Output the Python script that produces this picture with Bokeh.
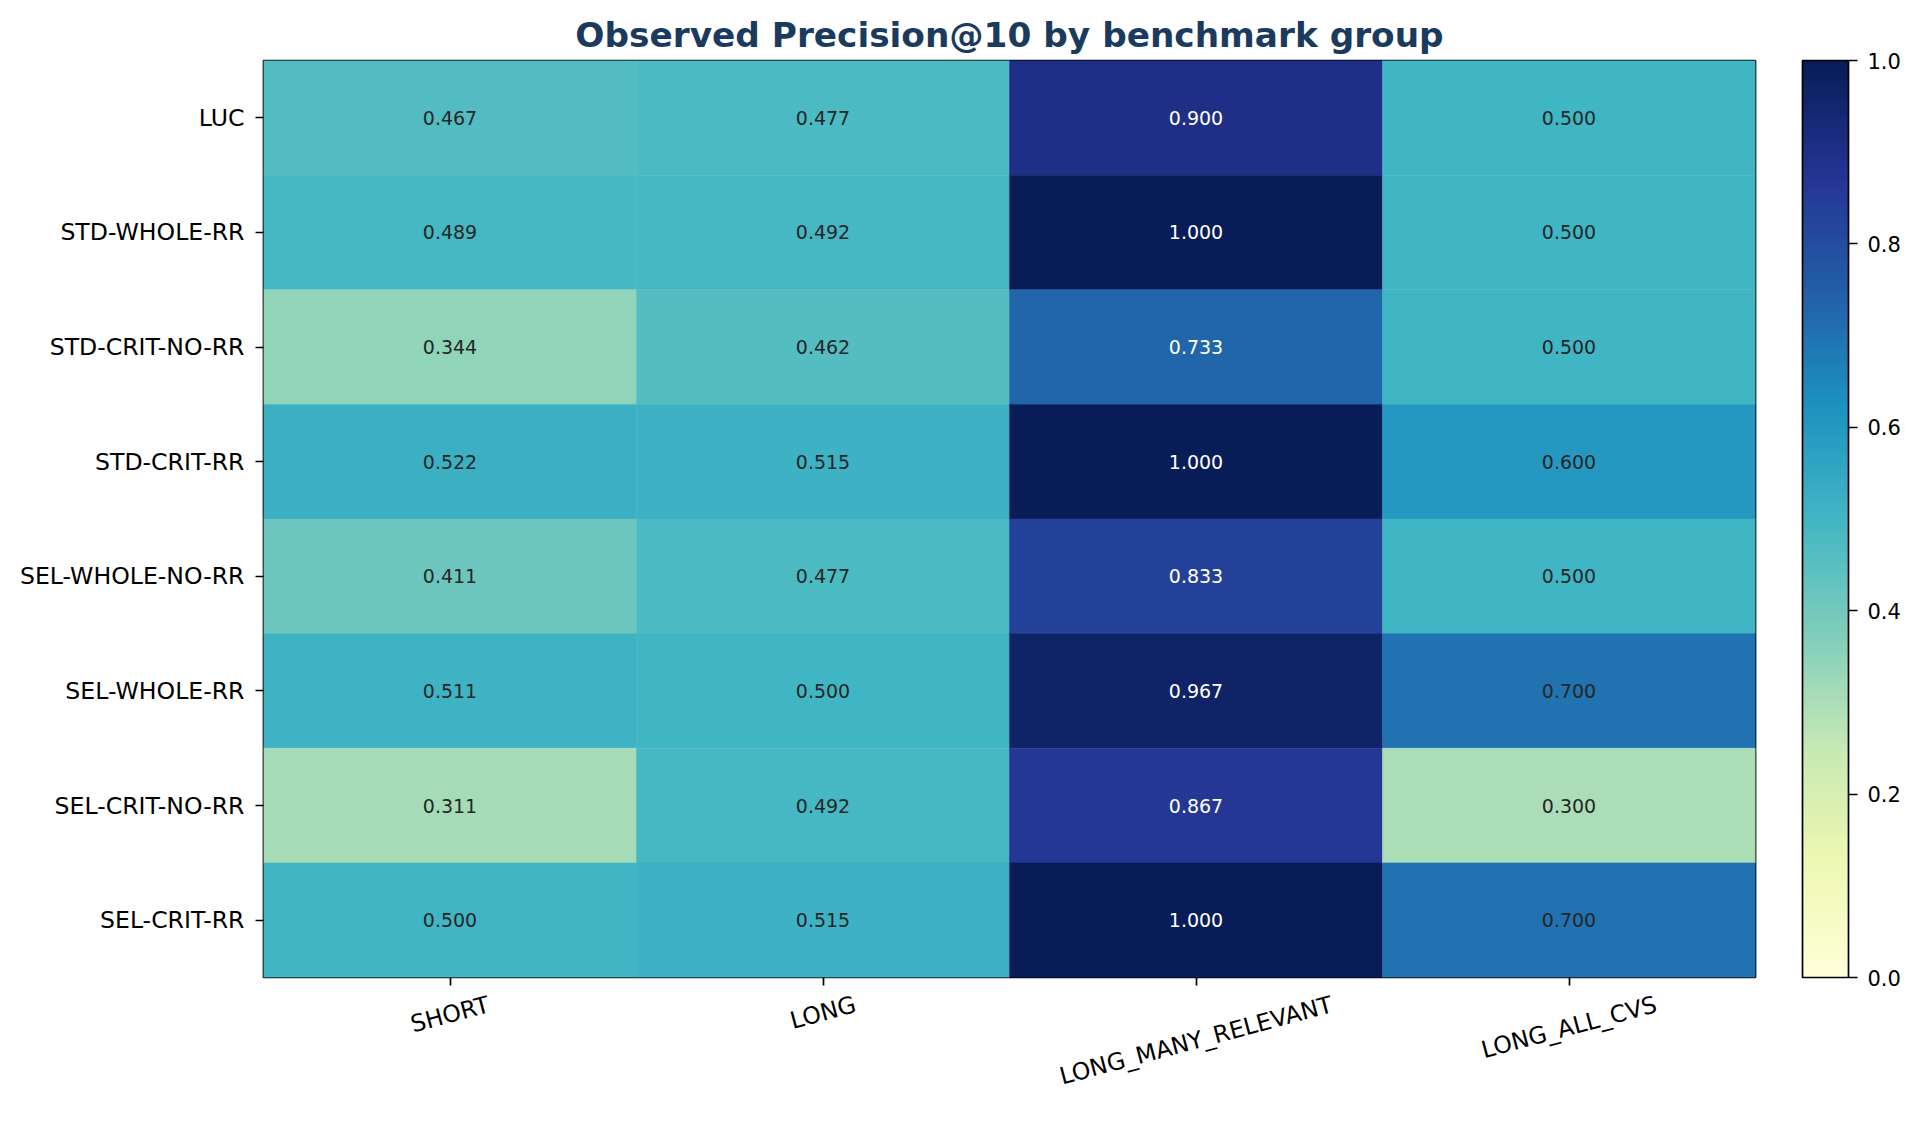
import math
import numpy as np
from bokeh.plotting import figure
from bokeh.layouts import column, row
from bokeh.models import (ColumnDataSource, LinearColorMapper, ColorBar, FixedTicker,
                          PrintfTickFormatter, FactorRange, Range1d, CustomJSTickFormatter)
from bokeh.embed import file_html
from bokeh.resources import INLINE
from bokeh.core.properties import value

# ---------------- data ----------------
rows = ["LUC", "STD-WHOLE-RR", "STD-CRIT-NO-RR", "STD-CRIT-RR",
        "SEL-WHOLE-NO-RR", "SEL-WHOLE-RR", "SEL-CRIT-NO-RR", "SEL-CRIT-RR"]
cols = ["SHORT", "LONG", "LONG_MANY_RELEVANT", "LONG_ALL_CVS"]

short_vals = [0.467, 0.489, 0.344, 0.522, 0.411, 0.511, 0.311, 0.500]
long_vals = [0.477, 0.492, 0.462, 0.515, 0.477, 0.500, 0.492, 0.515]
long_many_relevant_vals = [0.900, 1.000, 0.733, 1.000, 0.833, 0.967, 0.867, 1.000]
long_all_cvs_vals = [0.500, 0.500, 0.500, 0.600, 0.500, 0.700, 0.300, 0.700]

cbar_ticks = [0.0, 0.2, 0.4, 0.6, 0.8, 1.0]
title_text = "Observed Precision@10 by benchmark group"

# ---------------- colormap (YlGnBu, interpolated like matplotlib) ----------------
ylgnbu9 = ["#ffffd9", "#edf8b1", "#c7e9b4", "#7fcdbb", "#41b6c4",
           "#1d91c0", "#225ea8", "#253494", "#081d58"]
anchors = np.array([[int(c[i:i + 2], 16) for i in (1, 3, 5)] for c in ylgnbu9], dtype=float)
pos = np.linspace(0, 1, len(ylgnbu9))
palette = []
for tt in np.linspace(0, 1, 256):
    r, g, b = (np.interp(tt, pos, anchors[:, k]) for k in range(3))
    palette.append("#%02x%02x%02x" % (int(round(r)), int(round(g)), int(round(b))))
mapper = LinearColorMapper(palette=palette, low=0.0, high=1.0)

# ---------------- layout constants (pixels) ----------------
FONT = "DejaVu Sans"
W, H = 1923, 1124
FRAME_L, FRAME_R, FRAME_T, FRAME_B = 263, 1755, 60, 977
MAIN_W = FRAME_R + 2
MAIN_H = FRAME_B + 9
CB_GAP = 45
TICK_FS = 23.6
XLAB_ROT = 15

# ---------------- source ----------------
series = [short_vals, long_vals, long_many_relevant_vals, long_all_cvs_vals]
xs, ys, vs, labels, tcolors = [], [], [], [], []
for c, vals in zip(cols, series):
    for r, v in zip(rows, vals):
        xs.append(c)
        ys.append(r)
        vs.append(v)
        labels.append("%.3f" % v)
        tcolors.append("white" if v > 0.7 else "#262626")
src = ColumnDataSource(dict(x=xs, y=ys, v=vs, label=labels, tc=tcolors))

# ---------------- main heatmap ----------------
p = figure(width=MAIN_W, height=MAIN_H, output_backend="svg", toolbar_location=None,
           x_range=FactorRange(*cols), y_range=FactorRange(*list(reversed(rows))),
           min_border_left=FRAME_L, min_border_right=MAIN_W - FRAME_R,
           min_border_top=FRAME_T, min_border_bottom=MAIN_H - FRAME_B,
           title=title_text)
p.x_range.range_padding = 0
p.y_range.range_padding = 0

p.rect(x="x", y="y", width=1, height=1, source=src,
       fill_color={"field": "v", "transform": mapper},
       line_color={"field": "v", "transform": mapper}, line_width=0.5)
p.text(x="x", y="y", text="label", source=src, text_color="tc",
       text_align="center", text_baseline="middle",
       text_font=value(FONT), text_font_size="19px")

p.title.text_font = FONT
p.title.text_font_size = "34.3px"
p.title.text_font_style = "bold"
p.title.text_color = "#1a3a5e"
p.title.align = "center"
p.title.standoff = 12

p.grid.visible = False
p.outline_line_color = "black"
p.outline_line_width = 1.7
p.background_fill_color = "white"
p.border_fill_color = "white"

for ax in (p.xaxis, p.yaxis):
    ax.axis_line_color = None
    ax.major_tick_out = 8
    ax.major_tick_in = 0
    ax.major_tick_line_color = "black"
    ax.major_tick_line_width = 1.7
    ax.minor_tick_line_color = None
    ax.major_label_text_font = FONT
    ax.major_label_text_font_style = "normal"
    ax.major_label_text_color = "black"
    ax.major_label_text_font_size = "%.1fpx" % TICK_FS

p.yaxis.major_label_standoff = 11
# x tick labels are drawn rotated & centred in the strip below
p.xaxis.formatter = CustomJSTickFormatter(code="return ''")
p.xaxis.major_label_text_font_size = "0px"
p.xaxis.major_label_standoff = 0

# ---------------- colorbar (full-height column on the right) ----------------
pc = figure(width=W - MAIN_W, height=H, output_backend="svg", toolbar_location=None,
            x_axis_location=None, y_axis_location=None,
            min_border_left=0, min_border_right=W - MAIN_W - CB_GAP,
            min_border_top=FRAME_T, min_border_bottom=H - FRAME_B)
pc.outline_line_color = None
pc.grid.visible = False
pc.background_fill_color = "white"
pc.border_fill_color = "white"
cb = ColorBar(color_mapper=mapper, ticker=FixedTicker(ticks=cbar_ticks),
              formatter=PrintfTickFormatter(format="%.1f"),
              width=46, padding=0,
              major_label_text_font=FONT, major_label_text_font_size="21px",
              major_label_text_color="black",
              major_tick_out=9, major_tick_in=0, major_tick_line_color="black",
              major_tick_line_width=1.7, minor_tick_line_color=None,
              bar_line_color="black", bar_line_width=1.7, label_standoff=10,
              background_fill_color=None, border_line_color=None)
pc.add_layout(cb, "right")

# ---------------- rotated x tick labels (centred under ticks) ----------------
CHAR_EM = {"S": .635, "H": .752, "O": .787, "R": .695, "T": .611, "L": .557, "N": .748,
           "G": .775, "_": .5, "M": .863, "A": .684, "Y": .611, "E": .632, "V": .684,
           "C": .698}
ang = math.radians(XLAB_ROT)
LAB_H = H - MAIN_H
lab_y = []
for c in cols:
    w = sum(CHAR_EM.get(ch, .65) for ch in c) * TICK_FS
    hh = 1.164 * TICK_FS
    centre_screen = FRAME_B + 13 + 0.5 * (w * math.sin(ang) + hh * math.cos(ang))
    lab_y.append(H - centre_screen)
xl_src = ColumnDataSource(dict(x=cols, y=lab_y, text=cols))

pl = figure(width=MAIN_W, height=LAB_H, output_backend="svg", toolbar_location=None,
            x_range=p.x_range, y_range=Range1d(0, LAB_H),
            x_axis_location=None, y_axis_location=None,
            min_border_left=FRAME_L, min_border_right=MAIN_W - FRAME_R,
            min_border_top=0, min_border_bottom=0)
pl.outline_line_color = None
pl.grid.visible = False
pl.background_fill_color = "white"
pl.border_fill_color = "white"
pl.text(x="x", y="y", text="text", source=xl_src, angle=XLAB_ROT, angle_units="deg",
        text_align="center", text_baseline="middle",
        text_font=value(FONT), text_font_size="%.1fpx" % TICK_FS, text_color="black")

layout = row(column(p, pl, spacing=0), pc, spacing=0)
open("out.html", "w").write(file_html(layout, INLINE))
